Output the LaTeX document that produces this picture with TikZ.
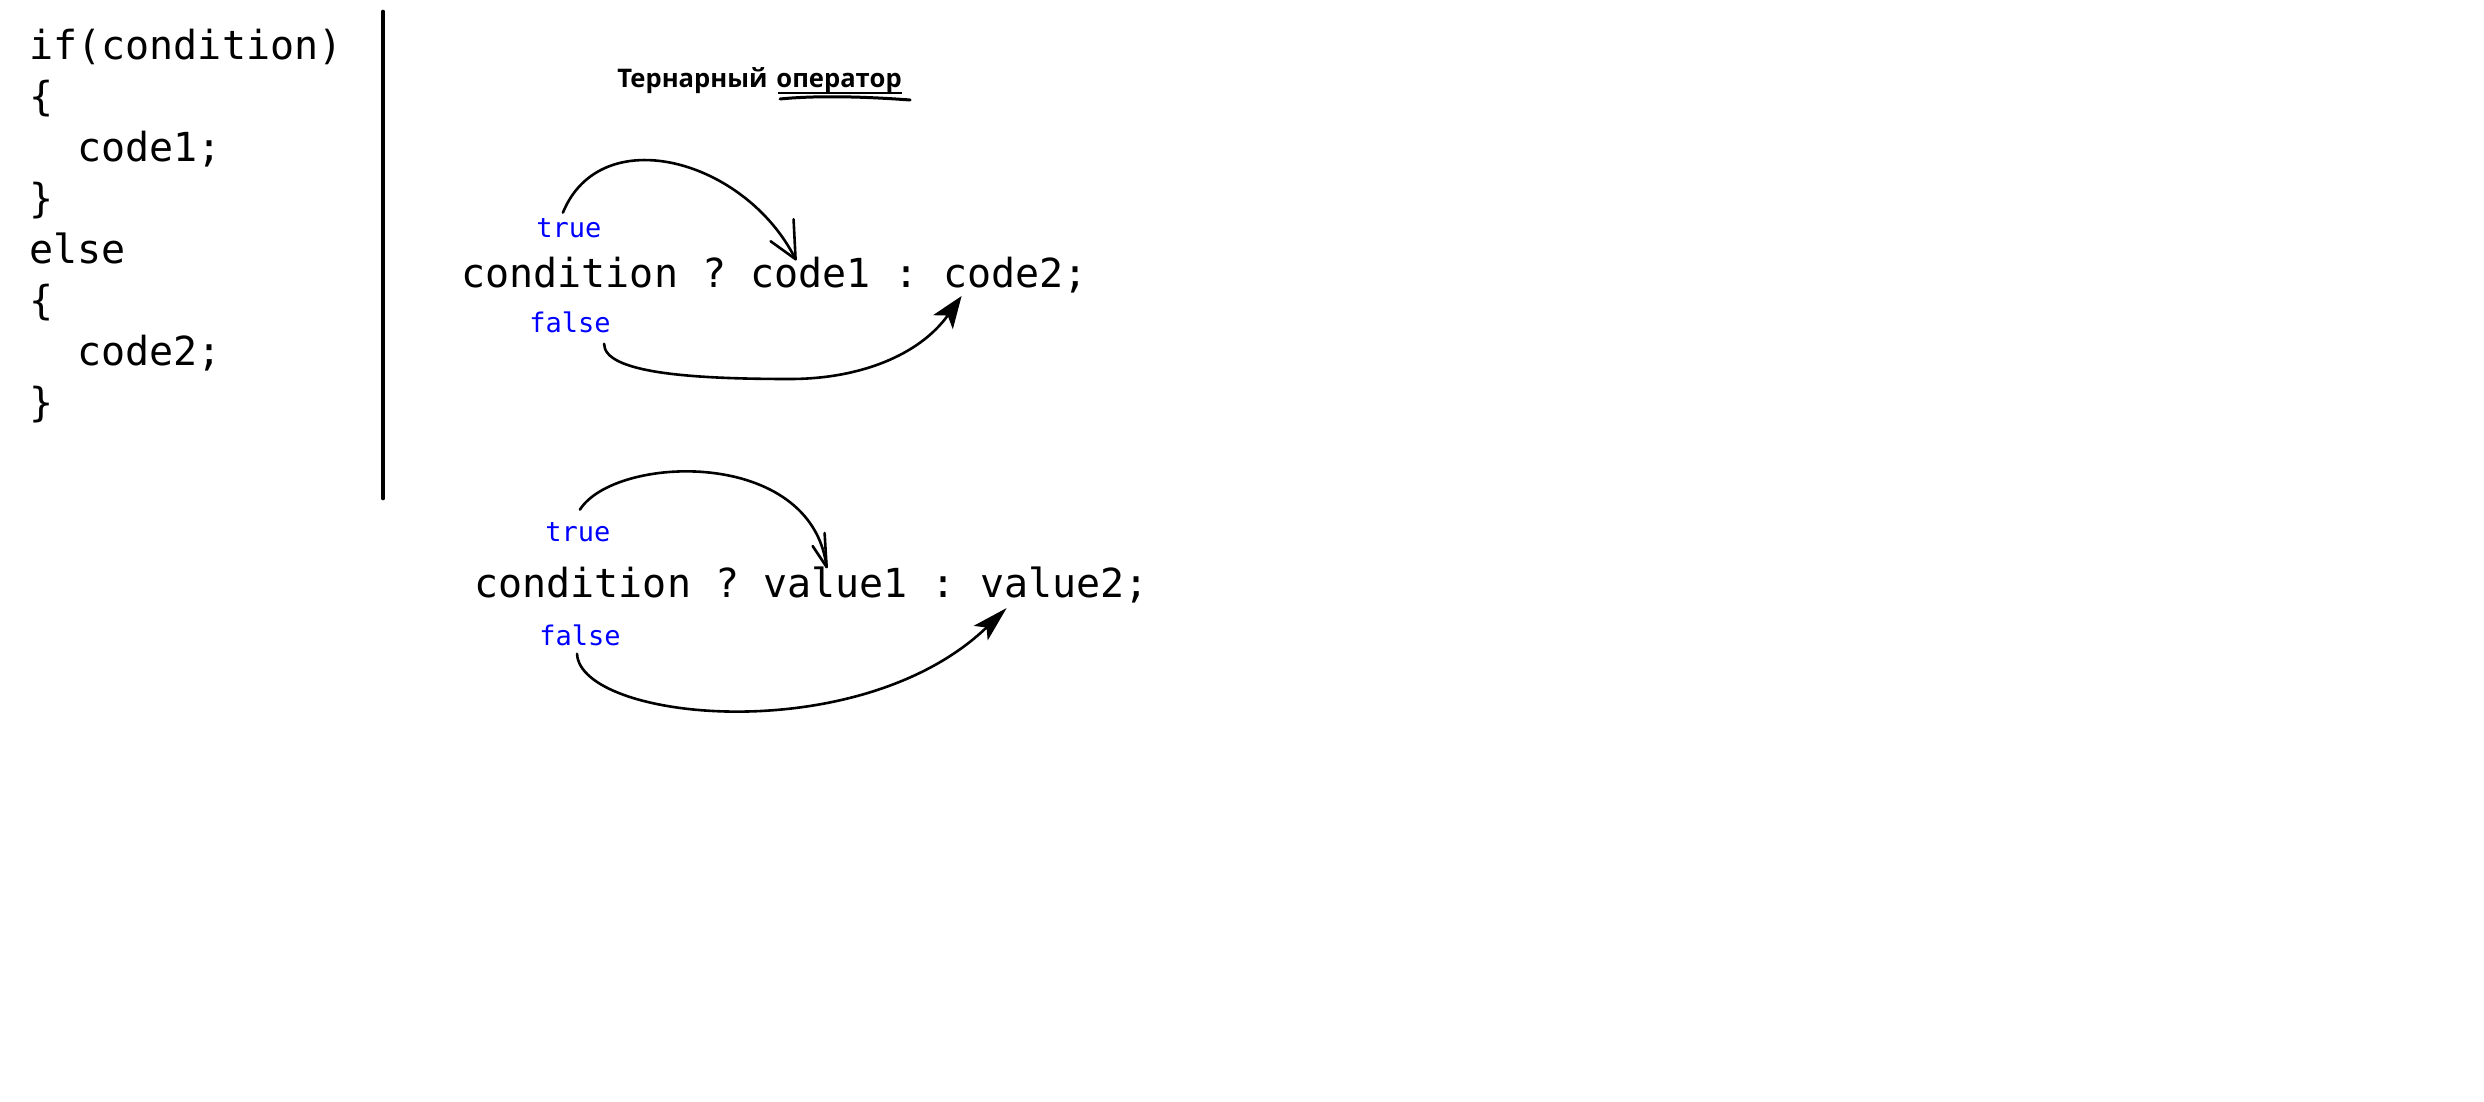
\documentclass[tikz,border=0pt]{standalone}
\usepackage{fontspec}
\setmainfont{Open Sans}
\setmonofont{DejaVu Sans Mono}
\usetikzlibrary{arrows.meta,calc}
\begin{document}
\begin{tikzpicture}[x=0.5pt,y=-0.5pt,
  code/.style={font=\ttfamily\fontsize{20}{24}\selectfont, inner sep=0pt, anchor=base west},
  branch/.style={font=\ttfamily\fontsize{13.5}{16}\selectfont, text=blue, inner sep=0pt, anchor=base west},
  heading/.style={font=\bfseries\fontsize{12.8}{15}\selectfont, inner sep=0pt, anchor=base west},
  flow/.style={line width=1.3pt, line cap=round, line join=round},
  headA/.style={-{Stealth[length=16pt,width=12pt,inset=4pt]}},
  headB/.style={-{Stealth[length=18pt,width=10pt,inset=4pt]}}
]
\def\adv{24.08}
\useasboundingbox (0,0) rectangle (2484,1102);
\fill[white] (0,0) rectangle (2484,1102);

% if / else listing
\node[code] (l1) at (29,60)  {if(condition)};
\node[code] (l2) at (29,111) {\{};
\node[code] (l3) at (29+2*\adv,162) {code1;};
\node[code] (l4) at (29,213) {\}};
\node[code] (l5) at (29,263) {else};
\node[code] (l6) at (29,314) {\{};
\node[code] (l7) at (29+2*\adv,365) {code2;};
\node[code] (l8) at (29,416) {\}};

% separator
\draw[line width=2.35pt, line cap=round] (383,12) -- (383,498);

% heading
\node[heading] (t1) at (617,88) {Тернарный};
\node[heading] (t2) at (776,88) {оператор};
\draw[line width=1pt] ($(t2.base west)+(2,5)$) -- ($(t2.base east)+(0,5)$);
\draw[line width=1.5pt, line cap=round] ($(t2.base west)+(4,11)$)
  .. controls +(40,-4) and +(-40,-3) .. ($(t2.base east)+(8,12)$);

% first form
\node[code] (cond1) at (461,287) {condition};
\node[code] (q1)    at (461+10*\adv,287) {?};
\node[code] (v1a)   at (461+12*\adv,287) {code1};
\node[code] (col1)  at (461+18*\adv,287) {:};
\node[code] (v1b)   at (461+20*\adv,287) {code2;};
\node[branch] (yes1) at (536,237) {true};
\node[branch] (no1)  at (529,332) {false};

\draw[flow] ($(yes1.north)+(-6,-5)$)
  .. controls +(38,-93) and +(-50,-100) .. ($(v1a.north)+(-15,3)$) coordinate (tip1);
\draw[flow] (tip1) -- +(-2,-40);
\draw[flow] (tip1) -- +(-25,-18);

\draw[flow, headA] ($(no1.south east)+(-7,11)$)
  .. controls +(0,29) and +(-100,0) .. ($(v1a.base west)+(40,92)$)
  .. controls +(70,0) and +(-42,59) .. ($(v1b.base west)+(19,9)$);

% second form
\node[code] (cond2) at (474,597) {condition};
\node[code] (q2)    at (474+10*\adv,597) {?};
\node[code] (w1)    at (474+12*\adv,597) {value1};
\node[code] (col2)  at (474+19*\adv,597) {:};
\node[code] (w2)    at (474+21*\adv,597) {value2;};
\node[branch] (yes2) at (545,541) {true};
\node[branch] (no2)  at (539,645) {false};

\draw[flow] ($(yes2.north)+(2,-12)$)
  .. controls +(35,-55) and +(-15,-120) .. ($(w1.north)+(-9,1)$) coordinate (tip2);
\draw[flow] (tip2) -- +(-2,-34);
\draw[flow] (tip2) -- +(-14,-21);

\draw[flow, headB] ($(no2.south)+(-3,8)$)
  .. controls +(3,67) and +(-147,142) .. ($(w2.base west)+(27,11)$);
\end{tikzpicture}
\end{document}
